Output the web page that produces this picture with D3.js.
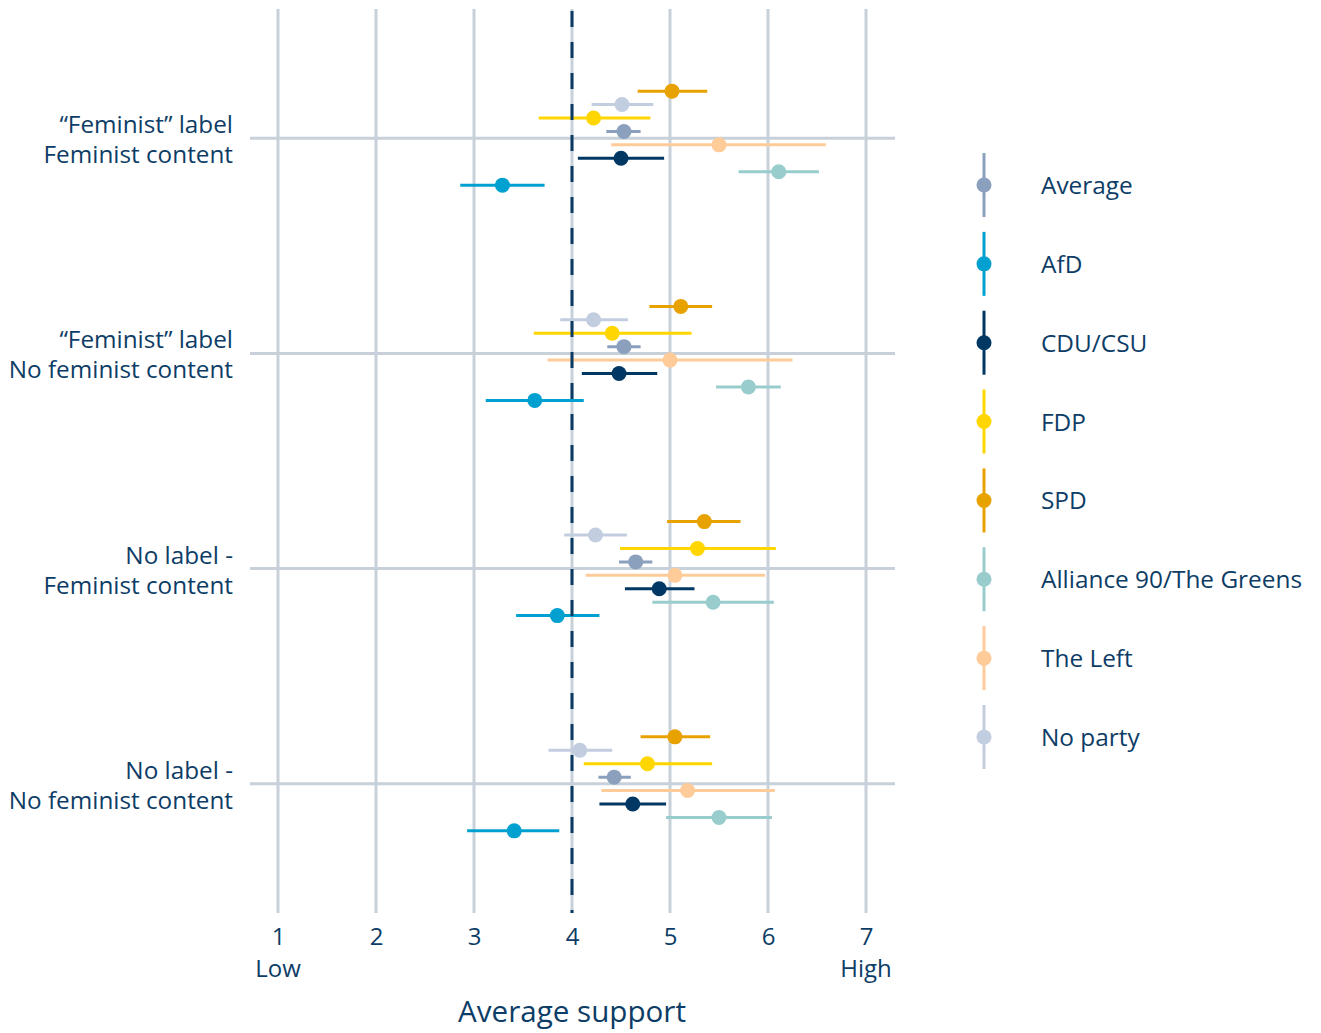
<!DOCTYPE html>
<html>
<head>
<meta charset="utf-8">
<script src="https://cdn.jsdelivr.net/npm/d3@7"></script>
<style>
  html, body { margin: 0; padding: 0; background: #ffffff; }
  svg { display: block; font-family: "Open Sans", sans-serif; }
</style>
</head>
<body>
<svg id="chart" width="1321" height="1033"></svg>
<script>
// Experimental conditions (rows of the chart), two label lines each
const categories = [
  ["\u201CFeminist\u201D label", "Feminist content"],
  ["\u201CFeminist\u201D label", "No feminist content"],
  ["No label -", "Feminist content"],
  ["No label -", "No feminist content"]
];

// Party groups in legend order
const series = ["Average", "AfD", "CDU/CSU", "FDP", "SPD", "Alliance 90/The Greens", "The Left", "No party"];
const colors = ["#8aa0bd", "#00a0d0", "#003763", "#ffd600", "#e8a200", "#99cccc", "#ffcc99", "#c3cde0"];

// Vertical stacking order of the groups inside each row (top to bottom)
const stackOrder = ["SPD", "No party", "FDP", "Average", "The Left", "CDU/CSU", "Alliance 90/The Greens", "AfD"];

// Mean support per condition, one array per party group
const meanAverage = [4.53, 4.53, 4.65, 4.43];
const meanAfD     = [3.29, 3.62, 3.85, 3.41];
const meanCDU     = [4.50, 4.48, 4.89, 4.62];
const meanFDP     = [4.22, 4.41, 5.28, 4.77];
const meanSPD     = [5.02, 5.11, 5.35, 5.05];
const meanGreens  = [6.11, 5.80, 5.44, 5.50];
const meanLeft    = [5.50, 5.00, 5.05, 5.18];
const meanNone    = [4.51, 4.22, 4.24, 4.08];

// Lower bounds of the confidence intervals
const lowAverage = [4.35, 4.36, 4.48, 4.27];
const lowAfD     = [2.86, 3.12, 3.43, 2.93];
const lowCDU     = [4.06, 4.10, 4.54, 4.28];
const lowFDP     = [3.66, 3.61, 4.49, 4.12];
const lowSPD     = [4.67, 4.79, 4.97, 4.70];
const lowGreens  = [5.70, 5.47, 4.82, 4.96];
const lowLeft    = [4.40, 3.75, 4.14, 4.30];
const lowNone    = [4.20, 3.88, 3.92, 3.76];

// Upper bounds of the confidence intervals
const highAverage = [4.70, 4.70, 4.82, 4.60];
const highAfD     = [3.72, 4.12, 4.28, 3.87];
const highCDU     = [4.94, 4.87, 5.25, 4.96];
const highFDP     = [4.80, 5.22, 6.08, 5.43];
const highSPD     = [5.38, 5.43, 5.72, 5.41];
const highGreens  = [6.52, 6.13, 6.06, 6.04];
const highLeft    = [6.59, 6.25, 5.97, 6.07];
const highNone    = [4.83, 4.57, 4.56, 4.41];

const xTicks = [1, 2, 3, 4, 5, 6, 7];
const xEndLabels = [["Low", 1], ["High", 7]];
const referenceValue = 4;
const xTitle = "Average support";

const means = [meanAverage, meanAfD, meanCDU, meanFDP, meanSPD, meanGreens, meanLeft, meanNone];
const lows  = [lowAverage, lowAfD, lowCDU, lowFDP, lowSPD, lowGreens, lowLeft, lowNone];
const highs = [highAverage, highAfD, highCDU, highFDP, highSPD, highGreens, highLeft, highNone];

const textColor = "#0d3d66";
const gridColor = "#c8d1d9";

const svg = d3.select("#chart");

const x = d3.scaleLinear().domain([1, 7]).range([278, 866]);
const panelLeft = 250, panelRight = 895, panelTop = 9, panelBottom = 913;

const y = d3.scalePoint()
  .domain(d3.range(categories.length))
  .range([panelTop, panelBottom])
  .padding(0.6);

const dodge = d3.scalePoint()
  .domain(stackOrder)
  .range([-47, 47]);

const color = d3.scaleOrdinal().domain(series).range(colors);

// Grid: vertical lines at ticks, horizontal lines at each condition
const grid = svg.append("g");
grid.selectAll("line.v").data(xTicks).join("line")
  .attr("x1", d => x(d)).attr("x2", d => x(d))
  .attr("y1", panelTop).attr("y2", panelBottom)
  .attr("stroke", gridColor).attr("stroke-width", 3);
grid.selectAll("line.h").data(d3.range(categories.length)).join("line")
  .attr("x1", panelLeft).attr("x2", panelRight)
  .attr("y1", d => y(d)).attr("y2", d => y(d))
  .attr("stroke", gridColor).attr("stroke-width", 3);

// Flatten into one record per party and condition
const records = [];
series.forEach((s, si) => {
  categories.forEach((c, ci) => {
    records.push({ series: s, cat: ci, mean: means[si][ci], low: lows[si][ci], high: highs[si][ci] });
  });
});

const marks = svg.append("g");
marks.selectAll("line.ci").data(records).join("line")
  .attr("x1", d => x(d.low)).attr("x2", d => x(d.high))
  .attr("y1", d => y(d.cat) + dodge(d.series))
  .attr("y2", d => y(d.cat) + dodge(d.series))
  .attr("stroke", d => color(d.series))
  .attr("stroke-width", 3);
marks.selectAll("circle.pt").data(records).join("circle")
  .attr("cx", d => x(d.mean))
  .attr("cy", d => y(d.cat) + dodge(d.series))
  .attr("r", 7.5)
  .attr("fill", d => color(d.series));

// Dashed reference line at the scale midpoint
svg.append("line")
  .attr("x1", x(referenceValue)).attr("x2", x(referenceValue))
  .attr("y1", panelTop + 2).attr("y2", panelBottom)
  .attr("stroke", "#0b3a62").attr("stroke-width", 3)
  .attr("stroke-dasharray", "16,15");

// Condition labels on the left
const yLabels = svg.append("g")
  .attr("fill", textColor)
  .attr("font-size", 24.3)
  .attr("text-anchor", "end");
categories.forEach((lines, i) => {
  const t = yLabels.append("text").attr("x", 233);
  t.append("tspan").attr("x", 233).attr("y", y(i) - 5).text(lines[0]);
  t.append("tspan").attr("x", 233).attr("y", y(i) + 25).text(lines[1]);
});

// X axis tick labels
const xAxis = d3.axisBottom(x).tickValues(xTicks).tickFormat(d3.format("d")).tickSize(0).tickPadding(0);
const axisG = svg.append("g")
  .attr("transform", `translate(0,${945})`)
  .call(xAxis);
axisG.select(".domain").remove();
axisG.selectAll("text")
  .attr("dy", 0)
  .attr("y", 0)
  .attr("fill", textColor)
  .attr("font-size", 24)
  .attr("font-family", "Open Sans, sans-serif");

svg.append("g").selectAll("text").data(xEndLabels).join("text")
  .attr("x", d => x(d[1])).attr("y", 977)
  .attr("text-anchor", "middle")
  .attr("fill", textColor).attr("font-size", 24)
  .text(d => d[0]);

svg.append("text")
  .attr("x", x(referenceValue)).attr("y", 1022)
  .attr("text-anchor", "middle")
  .attr("fill", textColor).attr("font-size", 29.6)
  .text(xTitle);

// Legend
const legendY = d3.scalePoint().domain(series).range([185, 737]);
const legend = svg.append("g");
const item = legend.selectAll("g").data(series).join("g")
  .attr("transform", d => `translate(984,${legendY(d)})`);
item.append("line")
  .attr("y1", -32).attr("y2", 32)
  .attr("stroke", d => color(d)).attr("stroke-width", 3);
item.append("circle").attr("r", 7.5).attr("fill", d => color(d));
item.append("text")
  .attr("x", 57).attr("y", 9)
  .attr("fill", textColor).attr("font-size", 24.4)
  .text(d => d);
</script>
</body>
</html>
